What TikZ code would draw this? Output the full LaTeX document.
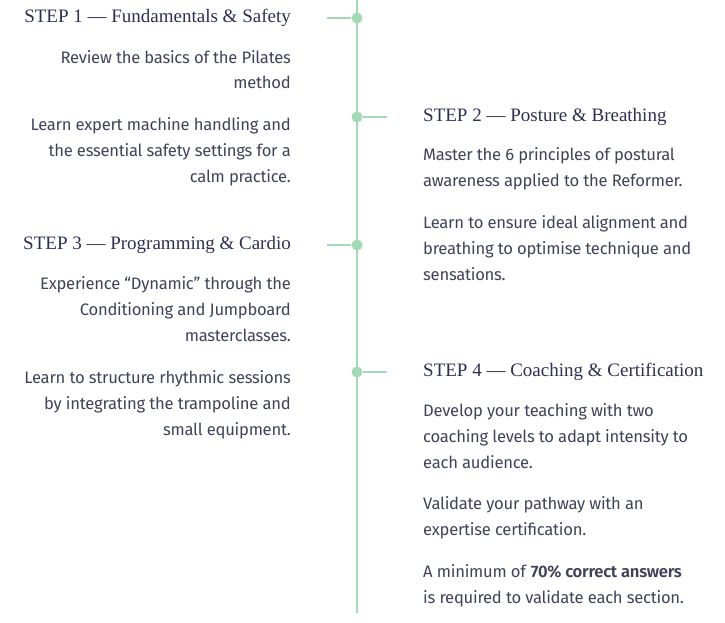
\documentclass[tikz,border=0pt]{standalone}
\usepackage{fontspec}
\setmainfont{Fira Sans}[BoldFont=Fira Sans SemiBold]
\newfontfamily\titlefont{Liberation Serif}
\definecolor{lineg}{HTML}{A3D9B6}
\definecolor{navy}{HTML}{2B3150}
\definecolor{bodyc}{HTML}{3E4358}
\begin{document}
\begin{tikzpicture}[x=1pt,y=-1pt,
  ttl/.style={font=\titlefont\fontsize{19}{22}\selectfont, text=navy, inner sep=0pt},
  bdy/.style={font=\fontsize{16.6}{19}\selectfont\addfontfeature{LetterSpace=-1.5}, text=bodyc, inner sep=0pt},
  dotc/.style={circle, fill=lineg, minimum size=11pt, inner sep=0pt}]
\useasboundingbox (0,0) rectangle (725,623);
\coordinate (top) at (357,0);
\coordinate (bot) at (357,613);
\draw[lineg, line width=2pt] (top) -- (bot);
\node[dotc] (d1) at (357,18) {};
\node[dotc] (d2) at (357,117) {};
\node[dotc] (d3) at (357,245) {};
\node[dotc] (d4) at (357,372) {};
\coordinate (t1) at (327,18);
\coordinate (t2) at (387,117);
\coordinate (t3) at (327,245);
\coordinate (t4) at (387,372);
\draw[lineg, line width=2pt] (t1) -- (d1);
\draw[lineg, line width=2pt] (d2) -- (t2);
\draw[lineg, line width=2pt] (t3) -- (d3);
\draw[lineg, line width=2pt] (d4) -- (t4);
\node[ttl, anchor=east] (s1) at (291,18) {STEP 1 — Fundamentals \& Safety};
\node[ttl, anchor=east] (s3) at (291,245) {STEP 3 — Programming \& Cardio};
\node[ttl, anchor=west] (s2) at (423,117) {STEP 2 — Posture \& Breathing};
\node[ttl, anchor=west] (s4) at (423,372) {STEP 4 — Coaching \& Certification};
\foreach \t/\y [count=\i] in {Review the basics of the Pilates/60, method/85,
  Learn expert machine handling and/127, the essential safety settings for a/153, calm practice./179,
  Experience “Dynamic” through the/286, Conditioning and Jumpboard/312, masterclasses./338,
  Learn to structure rhythmic sessions/380, by integrating the trampoline and/406, small equipment./432}
  \node[bdy, anchor=east] (l\i) at (291,\y) {\strut\t};
\foreach \t/\y [count=\i] in {Master the 6 principles of postural/157, awareness applied to the Reformer./183,
  Learn to ensure ideal alignment and/225, breathing to optimise technique and/251, sensations./277,
  Develop your teaching with two/413, coaching levels to adapt intensity to/439, each audience./465,
  Validate your pathway with an/506, expertise certification./532,
  A minimum of \textbf{70\% correct answers}/574, is required to validate each section./600}
  \node[bdy, anchor=west] (r\i) at (423,\y) {\strut\t};
\end{tikzpicture}
\end{document}
